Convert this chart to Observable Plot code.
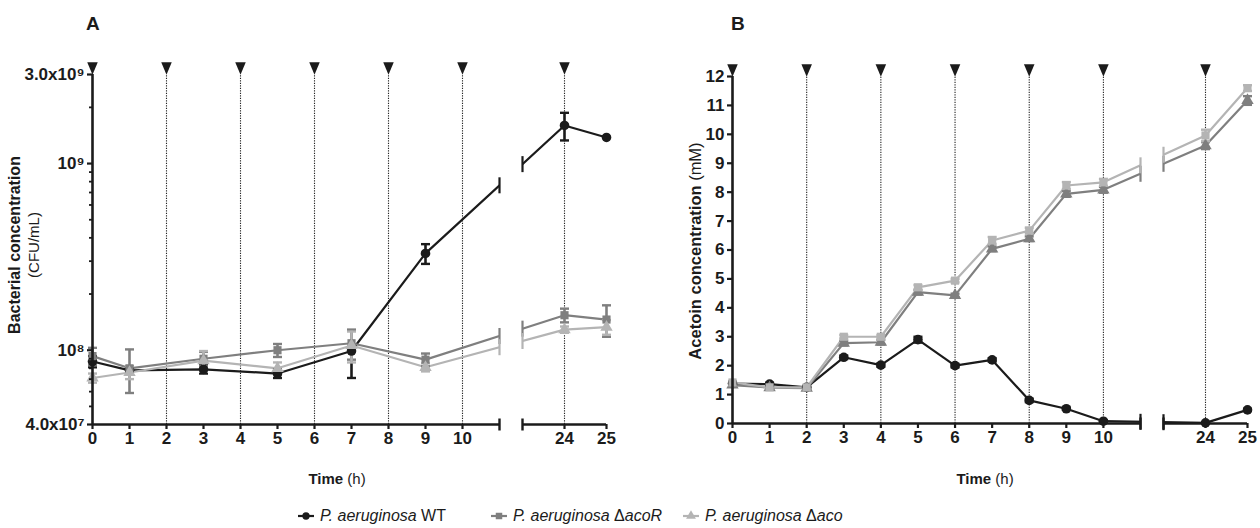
<!DOCTYPE html>
<html><head><meta charset="utf-8">
<script src="https://cdn.jsdelivr.net/npm/d3@7"></script>
<script src="https://cdn.jsdelivr.net/npm/@observablehq/plot@0.6"></script>
<style>
body{margin:0;background:#fff;}
#fig{position:relative;width:1260px;height:528px;font-family:"Liberation Sans",Arial,sans-serif;color:#1b1b1b;overflow:hidden;background:#fff}
#fig svg.plot{position:absolute;top:0}
.lab{position:absolute;white-space:nowrap;font-size:15px;line-height:1}
.lab.title{font-weight:bold;font-size:19px}
.leg{position:absolute;top:508px;display:flex;align-items:center;font-size:16px;white-space:nowrap;line-height:1}
.leg svg{margin-right:5px}
</style></head><body><div id="fig"></div>
<script>
// ---------- data ----------
const hoursA = [0, 1, 3, 5, 7, 9, 24, 25];
const wtCFU     = [8.7e7, 7.8e7, 7.9e7, 7.5e7, 9.9e7, 3.3e8, 1.6e9, 1.38e9];
const wtCFUsd   = [6e6, 4e6, 4e6, 4e6, 2.8e7, 4e7, 2.7e8, 0];
const acoRCFU   = [9.3e7, 8.0e7, 9.0e7, 1.0e8, 1.09e8, 8.9e7, 1.54e8, 1.46e8];
const acoRCFUsd = [1.0e7, 2.1e7, 8e6, 8e6, 2e7, 7e6, 1.3e7, 2.8e7];
const acoCFU    = [7.1e7, 7.6e7, 8.8e7, 8.0e7, 1.06e8, 8.1e7, 1.29e8, 1.33e8];
const acoCFUsd  = [4e6, 6e6, 1.1e7, 6e6, 2e7, 4e6, 5e6, 1.2e7];

const hoursB = [0, 1, 2, 3, 4, 5, 6, 7, 8, 9, 10, 24, 25];
const wtAcetoin     = [1.38, 1.36, 1.25, 2.29, 2.02, 2.9, 2.0, 2.2, 0.8, 0.51, 0.08, 0.02, 0.47];
const wtAcetoinSd   = [0.05, 0.05, 0.05, 0.06, 0.06, 0.1, 0.06, 0.06, 0.06, 0.04, 0.03, 0.02, 0.04];
const acoRAcetoin   = [1.33, 1.24, 1.22, 2.78, 2.81, 4.54, 4.43, 6.04, 6.39, 7.94, 8.08, 9.61, 11.17];
const acoRAcetoinSd = [0.05, 0.04, 0.04, 0.08, 0.08, 0.08, 0.06, 0.08, 0.08, 0.1, 0.1, 0.12, 0.15];
const acoAcetoin    = [1.42, 1.25, 1.25, 3.0, 3.0, 4.71, 4.94, 6.33, 6.67, 8.23, 8.34, 9.96, 11.6];
const acoAcetoinSd  = [0.05, 0.04, 0.04, 0.06, 0.06, 0.08, 0.06, 0.12, 0.1, 0.12, 0.12, 0.2, 0.1];

const seriesNames = ["WT", "ΔacoR", "Δaco"];
const xTicks = [0, 1, 2, 3, 4, 5, 6, 7, 8, 9, 10, 24, 25];
const additionHours = [0, 2, 4, 6, 8, 10, 24];
const yTicksA = [4e7, 1e8, 1e9, 3e9];
const yTickLabelsA = ["4.0x10⁷", "10⁸", "10⁹", "3.0x10⁹"];
const yMinorA = [5e7, 6e7, 7e7, 8e7, 9e7, 2e8, 3e8, 4e8, 5e8, 6e8, 7e8, 8e8, 9e8, 2e9];
const yTicksB = [0, 1, 2, 3, 4, 5, 6, 7, 8, 9, 10, 11, 12];

// ---------- style ----------
const COL = {wt: "#1b1b1b", dark: "#7f7f7f", light: "#b4b4b4"};
const FONT = "'Liberation Sans', Arial, sans-serif";
const TICK_PX = "17px";
const xDomain = [0, 11, 23, 25];   // broken time axis: 0–11 | 23–25

const vbar = {draw(c, s) {const h = Math.sqrt(s / Math.PI); c.moveTo(0, -h); c.lineTo(0, h);}};
const hbar = {draw(c, s) {const h = Math.sqrt(s / Math.PI); c.moveTo(-h, 0); c.lineTo(h, 0);}};
const downTri = {draw(c, s) {const h = Math.sqrt(s / Math.PI); c.moveTo(-0.85 * h, -h); c.lineTo(0.85 * h, -h); c.lineTo(0, h); c.closePath();}};

const rowsOf = (t, v, e) => t.map((d, i) => ({t: d, v: v[i], e: e[i]}));

function capsOf(rows, xs, yT, yI) {
  const out = [];
  for (let i = 0; i < rows.length - 1; i++) {
    const a = rows[i], b = rows[i + 1];
    if (a.t <= xDomain[1] && b.t >= xDomain[2]) {
      const p0 = xs(a.t), p1 = xs(b.t);
      for (const bx of [xDomain[1], xDomain[2]]) {
        const f = (xs(bx) - p0) / (p1 - p0);
        out.push({t: bx, v: yI(yT(a.v) + f * (yT(b.v) - yT(a.v)))});
      }
    }
  }
  return out;
}

function panel(cfg) {
  const {series, y, yMin, yMax, xRange, mt, mb, yTicks, yFmt, yMinor} = cfg;
  const W = 630, H = 470;
  const xs = d3.scaleLinear().domain(xDomain).range(xRange);
  const log = y.type === "log";
  const yT = log ? Math.log : (v) => v, yI = log ? Math.exp : (v) => v;
  const marks = [];
  marks.push(Plot.ruleX(additionHours.slice(1), {y1: yMin, y2: yMax, stroke: "#222", strokeWidth: 1.1, strokeDasharray: "1.2,1.3"}));
  for (const s of series) marks.push(Plot.line(s.rows, {x: "t", y: "v", stroke: s.color, strokeWidth: 2.2}));
  marks.push(Plot.rect([xDomain], {x1: (d) => d[1], x2: (d) => d[2], y1: yMin, y2: yMax, fill: "white", insetTop: -4, insetBottom: -4}));
  for (const s of series) {
    marks.push(Plot.dot(capsOf(s.rows, xs, yT, yI), {x: "t", y: "v", symbol: vbar, r: 8, stroke: s.color, strokeWidth: 2.2, fill: "none"}));
  }
  for (const s of series) {
    const er = s.rows.filter((d) => d.e > 0);
    marks.push(Plot.ruleX(er, {x: "t", y1: (d) => d.v - d.e, y2: (d) => d.v + d.e, stroke: s.color, strokeWidth: 2.6}));
    marks.push(Plot.dot(er, {x: "t", y: (d) => d.v + d.e, symbol: hbar, r: 4.5, stroke: s.color, strokeWidth: 2.4, fill: "none"}));
    marks.push(Plot.dot(er, {x: "t", y: (d) => d.v - d.e, symbol: hbar, r: 4.5, stroke: s.color, strokeWidth: 2.4, fill: "none"}));
  }
  for (const s of series) marks.push(Plot.dot(s.rows, {x: "t", y: "v", symbol: s.symbol, r: s.r, fill: s.color, stroke: "none"}));
  // axes
  marks.push(Plot.ruleX([xDomain[0]], {y1: yMin, y2: yMax, stroke: COL.wt, strokeWidth: 2.6}));
  marks.push(Plot.ruleY([yMin], {x1: xDomain[0], x2: xDomain[1], stroke: COL.wt, strokeWidth: 2.4}));
  marks.push(Plot.ruleY([yMin], {x1: xDomain[2], x2: xDomain[3], stroke: COL.wt, strokeWidth: 2.4}));
  marks.push(Plot.dot([xDomain[1], xDomain[2]], {x: (d) => d, y: yMin, symbol: vbar, r: 6, stroke: COL.wt, strokeWidth: 2.4, fill: "none"}));
  const tf = {fontSize: 17, fontWeight: "bold", fontFamily: FONT};
  marks.push(Plot.axisX({ticks: xTicks, tickFormat: (d) => String(d), tickSize: 5, tickPadding: 2, strokeWidth: 2.2, label: null, ...tf}));
  if (yMinor) marks.push(Plot.axisY({ticks: yMinor, tickFormat: () => "", tickSize: 3, strokeWidth: 1.8, label: null}));
  marks.push(Plot.axisY({ticks: yTicks, tickFormat: yFmt, tickSize: 5, tickPadding: 3, strokeWidth: 2.2, label: null, ...tf}));
  marks.push(Plot.dot(additionHours, {x: (d) => d, y: yMax, symbol: downTri, r: 6.2, fill: COL.wt, dy: -6}));
  const svg = Plot.plot({
    width: W, height: H, marginTop: mt, marginBottom: mb,
    marginLeft: xRange[0], marginRight: W - xRange[3],
    x: {type: "linear", domain: xDomain, range: xRange},
    y: {...y, domain: [yMin, yMax]},
    style: {fontFamily: FONT, fontSize: TICK_PX, fontWeight: "bold", color: "#1b1b1b", background: "transparent", overflow: "visible"},
    marks
  });
  svg.classList.add("plot");
  d3.select(svg).selectAll("text").style("font-size", TICK_PX).style("font-weight", "bold").style("font-family", FONT);
  return svg;
}

const fig = document.getElementById("fig");

const svgA = panel({
  series: [
    {rows: rowsOf(hoursA, wtCFU, wtCFUsd), color: COL.wt, symbol: "circle", r: 4.8},
    {rows: rowsOf(hoursA, acoRCFU, acoRCFUsd), color: COL.dark, symbol: "square", r: 4.6},
    {rows: rowsOf(hoursA, acoCFU, acoCFUsd), color: COL.light, symbol: "triangle", r: 4.6}
  ],
  y: {type: "log"}, yMin: 4e7, yMax: 3e9,
  xRange: [92, 499, 522, 606], mt: 74, mb: 46,
  yTicks: yTicksA, yFmt: (d) => yTickLabelsA[yTicksA.indexOf(d)], yMinor: yMinorA
});
svgA.style.left = "0px";
fig.appendChild(svgA);

const svgB = panel({
  series: [
    {rows: rowsOf(hoursB, wtAcetoin, wtAcetoinSd), color: COL.wt, symbol: "circle", r: 4.8},
    {rows: rowsOf(hoursB, acoRAcetoin, acoRAcetoinSd), color: COL.dark, symbol: "triangle", r: 4.6},
    {rows: rowsOf(hoursB, acoAcetoin, acoAcetoinSd), color: COL.light, symbol: "square", r: 4.6}
  ],
  y: {type: "linear"}, yMin: 0, yMax: 12,
  xRange: [102, 510, 533, 617], mt: 76, mb: 47,
  yTicks: yTicksB, yFmt: (d) => String(d), yMinor: null
});
svgB.style.left = "630px";
fig.appendChild(svgB);

// y-axis titles
function ytitle(svg, x, y, size, parts) {
  const t = d3.select(svg).append("text").attr("transform", `translate(${x},${y}) rotate(-90)`)
    .attr("text-anchor", "middle").attr("dominant-baseline", "middle")
    .style("font-size", size).style("font-family", FONT).attr("fill", "#1b1b1b");
  for (const [txt, w] of parts) t.append("tspan").style("font-weight", w).style("font-size", size).text(txt);
}
ytitle(svgA, 16, 245, "16px", [["Bacterial concentration", "bold"]]);
ytitle(svgA, 35, 245, "15px", [["(CFU/mL)", "normal"]]);
ytitle(svgB, 67, 251, "16.5px", [["Acetoin concentration", "bold"], [" (mM)", "normal"]]);

// titles and x labels
function lab(html, left, top, cls, center) {
  const d = document.createElement("div");
  d.className = "lab " + (cls || "");
  d.innerHTML = html;
  d.style.left = left + "px"; d.style.top = top + "px";
  if (center) d.style.transform = "translateX(-50%)";
  fig.appendChild(d);
}
lab("A", 86, 14, "title");
lab("B", 731, 14, "title");
lab("<b>Time</b> (h)", 337, 471, "", true);
lab("<b>Time</b> (h)", 985, 471, "", true);

// legend
const legSym = ["circle", "square", "triangle"];
const legCol = [COL.wt, COL.dark, COL.light];
const legLeft = [297, 490, 682];
seriesNames.forEach((name, i) => {
  const it = document.createElement("div"); it.className = "leg";
  it.style.left = legLeft[i] + "px";
  const s = d3.create("svg").attr("width", 18).attr("height", 12);
  s.append("line").attr("x1", 1).attr("x2", 17).attr("y1", 6).attr("y2", 6).attr("stroke", legCol[i]).attr("stroke-width", 2.2);
  const sym = legSym[i] === "circle" ? d3.symbolCircle : legSym[i] === "square" ? d3.symbolSquare : d3.symbolTriangle;
  s.append("path").attr("d", d3.symbol(sym, 42)()).attr("transform", "translate(9,6)").attr("fill", legCol[i]);
  it.appendChild(s.node());
  const t = document.createElement("span");
  const m = name.match(/^(Δ?)(.*)$/);
  t.innerHTML = "<i>P. aeruginosa</i> " + (name === "WT" ? "WT" : m[1] + "<i>" + m[2] + "</i>");
  it.appendChild(t);
  fig.appendChild(it);
});
</script></body></html>
